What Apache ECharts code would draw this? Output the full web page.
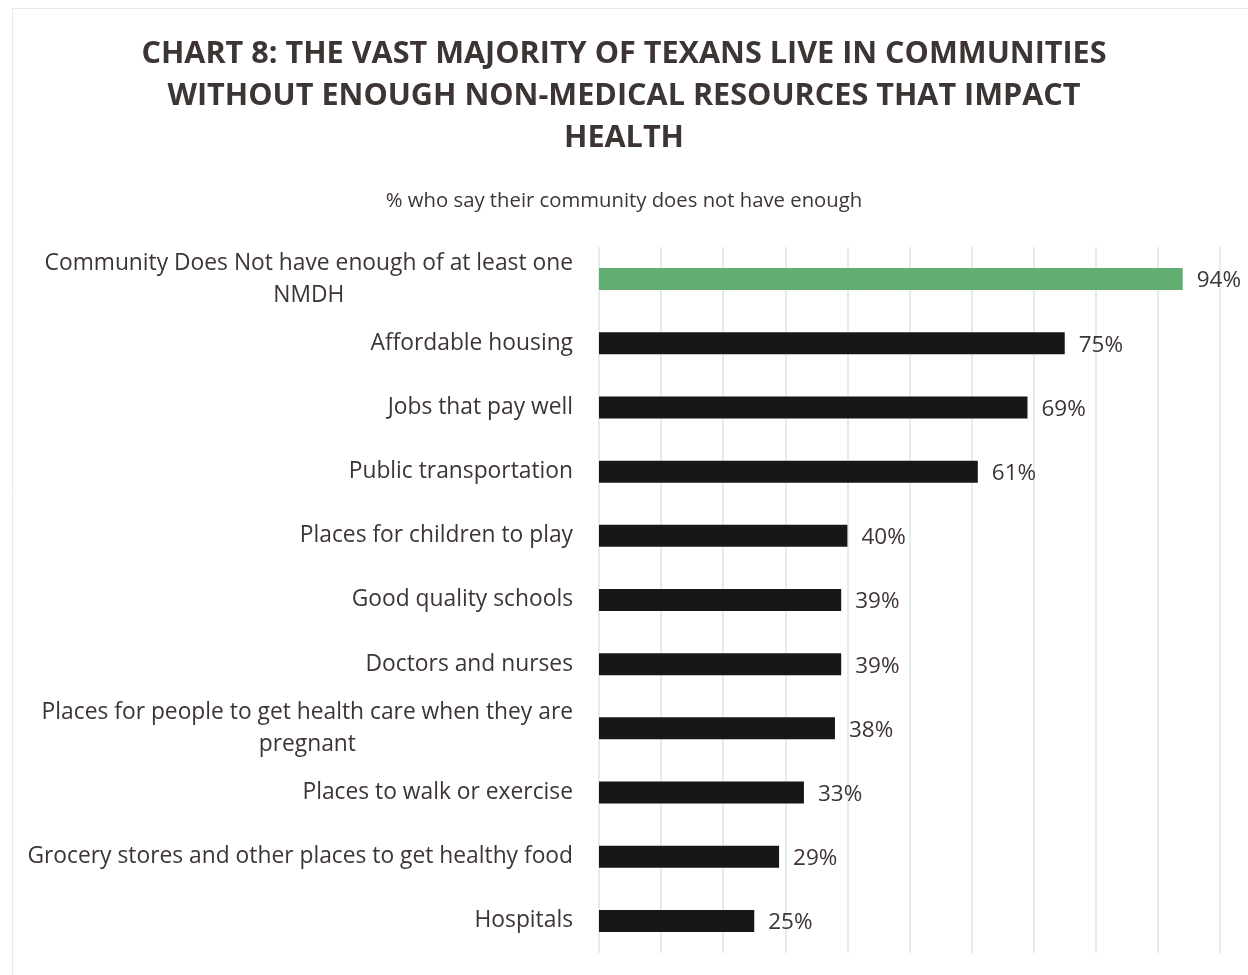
<!DOCTYPE html>
<html>
<head>
<meta charset="utf-8">
<script src="https://cdn.jsdelivr.net/npm/echarts@6/dist/echarts.min.js"></script>
<style>
  html, body { margin: 0; padding: 0; background: #fff; }
  #chart { width: 1248px; height: 975px; }
</style>
</head>
<body>
<div id="chart"></div>
<script>
// Resources people say their community lacks, top to bottom
const categories = [
  'Community Does Not have enough of at least one\nNMDH',
  'Affordable housing',
  'Jobs that pay well',
  'Public transportation',
  'Places for children to play',
  'Good quality schools',
  'Doctors and nurses',
  'Places for people to get health care when they are\npregnant',
  'Places to walk or exercise',
  'Grocery stores and other places to get healthy food',
  'Hospitals'
];
// Share of Texans (%) saying "not enough"
const values = [94, 75, 69, 61, 40, 39, 39, 38, 33, 29, 25];
const titleText = 'CHART 8: THE VAST MAJORITY OF TEXANS LIVE IN COMMUNITIES\nWITHOUT ENOUGH NON-MEDICAL RESOURCES THAT IMPACT\nHEALTH';
const subtitleText = '% who say their community does not have enough';

const textColor = '#3d3533';
const font = '"Open Sans", "Noto Sans", sans-serif';

const chart = echarts.init(document.getElementById('chart'), null, { renderer: 'canvas' });

chart.setOption({
  backgroundColor: '#ffffff',
  animation: false,
  graphic: [{
    type: 'rect',
    shape: { x: 12.5, y: 8.5, width: 1300, height: 1000 },
    style: { fill: 'none', stroke: '#e3eee9', lineWidth: 1 },
    silent: true
  }],
  title: [{
    text: titleText,
    left: 'center',
    top: 28,
    textStyle: {
      fontFamily: font,
      fontSize: 30.6,
      fontWeight: 'bold',
      color: textColor,
      lineHeight: 42
    }
  }, {
    text: subtitleText,
    left: 'center',
    top: 186,
    textStyle: {
      fontFamily: font,
      fontSize: 20.3,
      fontWeight: 'normal',
      color: textColor
    }
  }],
  grid: { left: 599, right: 28, top: 247, bottom: 22, containLabel: false },
  xAxis: {
    type: 'value',
    min: 0,
    max: 100,
    interval: 10,
    axisLabel: { show: false },
    axisLine: { show: false },
    axisTick: { show: false },
    splitLine: { show: true, lineStyle: { color: '#e2eee8', width: 2 } }
  },
  yAxis: {
    type: 'category',
    inverse: true,
    data: categories,
    axisLine: { show: false },
    axisTick: { show: false },
    axisLabel: {
      margin: 26,
      formatter: v => v.split('\n').map(l => '{c|' + l + '}').join('\n'),
      rich: {
        c: {
          align: 'center',
          fontFamily: font,
          fontSize: 22.8,
          color: textColor,
          lineHeight: 32
        }
      }
    }
  },
  series: [{
    type: 'bar',
    data: values.map((v, i) => ({
      value: v,
      itemStyle: { color: i === 0 ? '#62ad72' : '#171717' }
    })),
    barWidth: 22,
    label: {
      show: true,
      position: 'right',
      distance: 14,
      offset: [0, 2],
      formatter: p => p.value + '%',
      fontFamily: font,
      fontSize: 22.5,
      color: textColor
    }
  }]
});
</script>
</body>
</html>
